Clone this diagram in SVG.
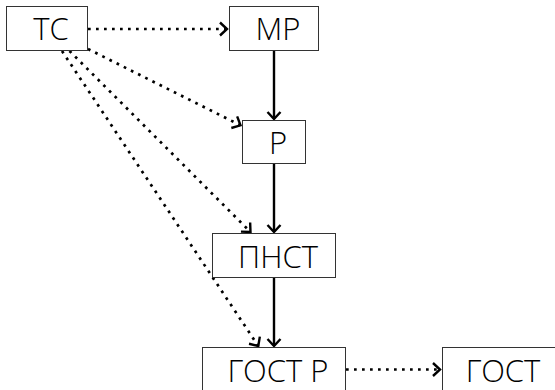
<svg xmlns="http://www.w3.org/2000/svg" width="555" height="390" viewBox="0 0 555 390">
<style>
.box{fill:#fff;stroke:#333;stroke-width:1}
.lbl{font-family:"Open Sans","Noto Sans",sans-serif;font-weight:300;font-size:31px;fill:#000;text-anchor:middle}
.solid{stroke:#000;stroke-width:2.4;fill:none}
.dot{stroke:#000;stroke-width:2.7;fill:none;stroke-dasharray:2.7 5.3}
</style>
<defs>
<marker id="chev" markerUnits="userSpaceOnUse" markerWidth="20" markerHeight="20" viewBox="-10 -10 20 20" refX="0" refY="0" orient="auto" overflow="visible">
<path d="M-7,-6.5 L0,0 L-7,6.5" fill="none" stroke="#000" stroke-width="2.4" stroke-dasharray="none"/>
</marker>
</defs>
<rect width="555" height="390" fill="#fff"/>
<g id="connectors">
<line class="dot" x1="88" y1="29" x2="227" y2="29" marker-end="url(#chev)"/>
<line class="dot" x1="88" y1="49" x2="240.5" y2="125.3" marker-end="url(#chev)"/>
<line class="dot" x1="69.5" y1="51" x2="250.5" y2="232" marker-end="url(#chev)"/>
<line class="dot" x1="62" y1="51" x2="258.3" y2="346" marker-end="url(#chev)"/>
<line class="solid" x1="274" y1="51" x2="274" y2="119" marker-end="url(#chev)"/>
<line class="solid" x1="274" y1="164" x2="274" y2="232" marker-end="url(#chev)"/>
<line class="solid" x1="274" y1="278" x2="274" y2="346" marker-end="url(#chev)"/>
<line class="dot" x1="346" y1="369.5" x2="440" y2="369.5" marker-end="url(#chev)"/>
</g>
<g id="TC"><rect class="box" x="6.5" y="6.5" width="81" height="44"/><text class="lbl" x="51" y="40">ТС</text></g>
<g id="MP"><rect class="box" x="229.5" y="6.5" width="89" height="44"/><text class="lbl" x="278" y="40">МР</text></g>
<g id="P"><rect class="box" x="242.5" y="120.5" width="63" height="43"/><text class="lbl" x="278" y="154">Р</text></g>
<g id="PNST"><rect class="box" x="212.5" y="233.5" width="123" height="44"/><text class="lbl" x="278" y="268">ПНСТ</text></g>
<g id="GOSTR"><rect class="box" x="202.5" y="347.5" width="143" height="44"/><text class="lbl" x="278" y="381.5">ГОСТ Р</text></g>
<g id="GOST"><rect class="box" x="442.5" y="347.5" width="114" height="44"/><text class="lbl" x="503" y="381.5">ГОСТ</text></g>
</svg>
